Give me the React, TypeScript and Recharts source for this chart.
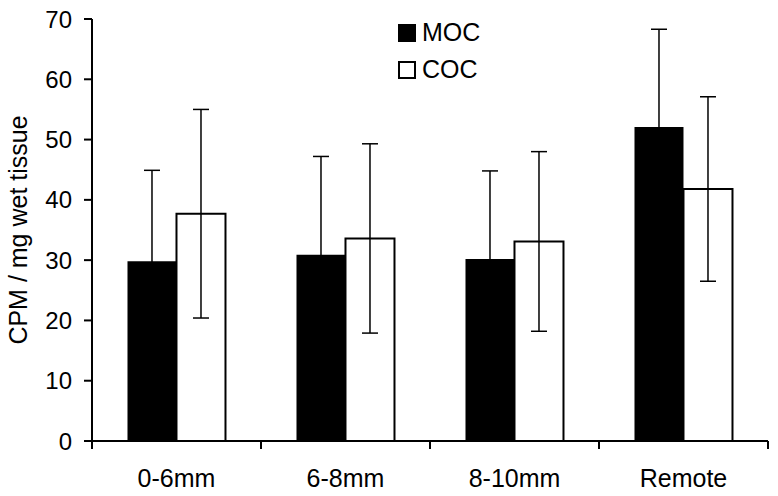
import React from "react";
import { BarChart, Bar, XAxis, YAxis, ErrorBar, Legend } from "recharts";

const categories = ["0-6mm", "6-8mm", "8-10mm", "Remote"];
const mocValues = [29.8, 30.9, 30.2, 52.1];
const mocErrors = [15.1, 16.3, 14.6, 16.2];
const cocValues = [37.7, 33.6, 33.1, 41.8];
const cocErrors = [17.3, 15.7, 14.9, 15.3];
const yTicks = [0, 10, 20, 30, 40, 50, 60, 70];

const data = categories.map((name, i) => ({
  name,
  MOC: mocValues[i],
  mocErr: mocErrors[i],
  COC: cocValues[i],
  cocErr: cocErrors[i],
}));

const FONT = "Arial, 'Liberation Sans', sans-serif";

function CategoryTick(props: any) {
  const { x, y, payload, index, visibleTicksCount } = props;
  const half = payload && payload.offset ? payload.offset : 84.5;
  const isLast = index === visibleTicksCount - 1;
  return (
    <g>
      <line x1={x - half} x2={x - half} y1={y - 8} y2={y} stroke="#000" strokeWidth={2} />
      {isLast && (
        <line x1={x + half} x2={x + half} y1={y - 8} y2={y} stroke="#000" strokeWidth={2} />
      )}
      <text x={x} y={y + 38} textAnchor="middle" fontSize={25} fontFamily={FONT} fill="#000">
        {payload.value}
      </text>
    </g>
  );
}

function LegendBox() {
  const items = [
    { label: "MOC", fill: "#000" },
    { label: "COC", fill: "#fff" },
  ];
  return (
    <div style={{ fontFamily: FONT, fontSize: 25, color: "#000" }}>
      {items.map((it) => (
        <div key={it.label} style={{ display: "flex", alignItems: "center", height: 37 }}>
          <span
            style={{
              display: "inline-block",
              width: 14,
              height: 14,
              background: it.fill,
              border: "2px solid #000",
              marginRight: 6,
            }}
          />
          <span>{it.label}</span>
        </div>
      ))}
    </div>
  );
}

export default function App() {
  return (
    <div style={{ position: "absolute", left: 0, top: 0, background: "#fff" }}>
      <BarChart
        width={778}
        height={496}
        data={data}
        margin={{ top: 19, right: 10, left: 0, bottom: 0 }}
        barCategoryGap="21%"
        barGap={0}
      >
        <XAxis
          dataKey="name"
          axisLine={{ stroke: "#000", strokeWidth: 2 }}
          tickLine={false}
          tickSize={8}
          tickMargin={0}
          height={55}
          tick={<CategoryTick />}
          interval={0}
        />
        <YAxis
          domain={[0, 70]}
          ticks={yTicks}
          width={92}
          axisLine={{ stroke: "#000", strokeWidth: 2 }}
          tickLine={{ stroke: "#000", strokeWidth: 2 }}
          tickSize={8}
          tickMargin={12}
          tick={{ fontSize: 24, fill: "#000", fontFamily: FONT }}
          label={{
            value: "CPM / mg wet tissue",
            angle: -90,
            position: "insideLeft",
            offset: 18,
            style: { textAnchor: "middle", fontSize: 25, fill: "#000", fontFamily: FONT },
          }}
        />
        <Legend
          layout="vertical"
          verticalAlign="middle"
          align="center"
          content={<LegendBox />}
          wrapperStyle={{ left: 398, top: 14, width: 120 }}
        />
        <Bar dataKey="MOC" fill="#000" isAnimationActive={false}>
          <ErrorBar dataKey="mocErr" width={8} stroke="#000" strokeWidth={1.5} direction="y" />
        </Bar>
        <Bar dataKey="COC" fill="#fff" stroke="#000" strokeWidth={2} isAnimationActive={false}>
          <ErrorBar dataKey="cocErr" width={8} stroke="#000" strokeWidth={1.5} direction="y" />
        </Bar>
      </BarChart>
    </div>
  );
}
